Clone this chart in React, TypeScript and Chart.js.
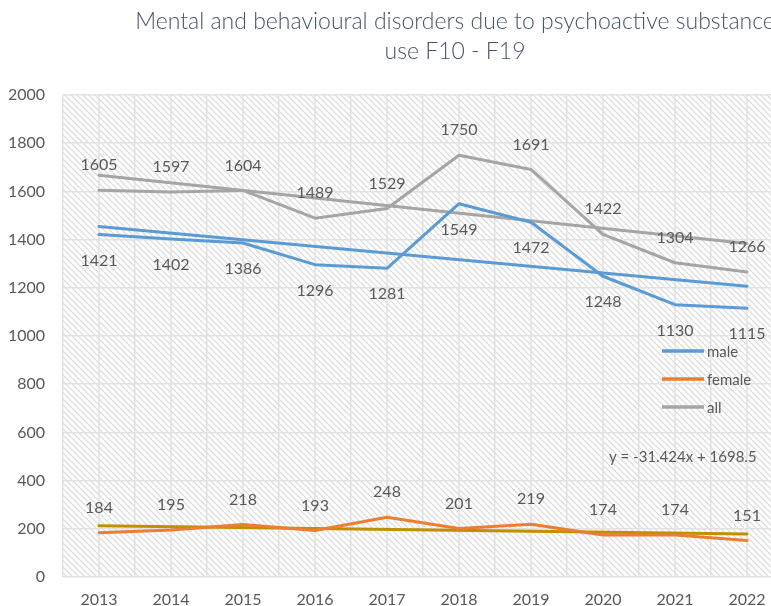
import React, { useEffect, useRef } from "react";
import { Chart, registerables } from "chart.js";

Chart.register(...registerables);

const years = ["2013", "2014", "2015", "2016", "2017", "2018", "2019", "2020", "2021", "2022"];
const male = [1421, 1402, 1386, 1296, 1281, 1549, 1472, 1248, 1130, 1115];
const female = [184, 195, 218, 193, 248, 201, 219, 174, 174, 151];
const all = [1605, 1597, 1604, 1489, 1529, 1750, 1691, 1422, 1304, 1266];
// linear trendline end values (2013 and 2022)
const maleTrend = [1454, null, null, null, null, null, null, null, null, 1206];
const femaleTrend = [213, null, null, null, null, null, null, null, null, 178];
const allTrend = [1667, null, null, null, null, null, null, null, null, 1384];
const titleLines = ["Mental and behavioural disorders due to psychoactive substance", "use F10 - F19"];
const equation = "y = -31.424x + 1698.5";
const legendItems = [
  { label: "male", color: "#5B9BD5" },
  { label: "female", color: "#ED7D31" },
  { label: "all", color: "#A5A5A5" },
];

const FONT = "Lato, 'Open Sans', sans-serif";
const TEXT = "#595959";

export default function App() {
  const ref = useRef<HTMLCanvasElement | null>(null);

  useEffect(() => {
    const canvas = ref.current!;
    const pc = document.createElement("canvas");
    pc.width = 6;
    pc.height = 6;
    const pctx = pc.getContext("2d")!;
    pctx.fillStyle = "#ffffff";
    pctx.fillRect(0, 0, 6, 6);
    pctx.strokeStyle = "#d9d9d9";
    pctx.lineWidth = 1.2;
    pctx.beginPath();
    pctx.moveTo(-1, -1);
    pctx.lineTo(7, 7);
    pctx.moveTo(-1, 5);
    pctx.lineTo(1, 7);
    pctx.moveTo(5, -1);
    pctx.lineTo(7, 1);
    pctx.stroke();

    const bgPlugin = {
      id: "bgpat",
      beforeDraw(chart: any) {
        const { ctx, chartArea: a } = chart;
        ctx.save();
        ctx.fillStyle = "#ffffff";
        ctx.fillRect(0, 0, chart.width, chart.height);
        const pat = ctx.createPattern(pc, "repeat");
        ctx.fillStyle = pat;
        ctx.fillRect(a.left, a.top, a.right - a.left, a.bottom - a.top);
        ctx.restore();
      },
      beforeDatasetsDraw(chart: any) {
        const { ctx, chartArea: a, scales } = chart;
        ctx.save();
        ctx.strokeStyle = "#e2e2e2";
        ctx.lineWidth = 1.5;
        years.forEach((_, i) => {
          const x = scales.x.getPixelForValue(i);
          ctx.beginPath();
          ctx.moveTo(x, a.top);
          ctx.lineTo(x, a.bottom);
          ctx.stroke();
        });
        ctx.restore();
      },
    };

    const textPlugin = {
      id: "texts",
      afterDatasetsDraw(chart: any) {
        const { ctx, scales } = chart;
        ctx.save();
        ctx.fillStyle = TEXT;
        ctx.font = `16px ${FONT}`;
        ctx.textAlign = "center";
        ctx.textBaseline = "middle";
        const series: [number[], number][] = [
          [all, -25],
          [male, 26],
          [female, -25],
        ];
        series.forEach(([arr, off]) => {
          arr.forEach((v, i) => {
            const x = scales.x.getPixelForValue(i);
            const y = scales.y.getPixelForValue(v);
            ctx.fillText(String(v), x, y + off);
          });
        });
        // title
        ctx.fillStyle = "#44546A";
        ctx.font = `300 23px ${FONT}`;
        ctx.fillText(titleLines[0], 455, 22);
        ctx.fillText(titleLines[1], 455, 52);
        // legend
        ctx.textAlign = "left";
        ctx.font = `15px ${FONT}`;
        legendItems.forEach((it, k) => {
          const y = 351 + k * 28;
          ctx.strokeStyle = it.color;
          ctx.lineWidth = 3.5;
          ctx.beginPath();
          ctx.moveTo(662, y);
          ctx.lineTo(704, y);
          ctx.stroke();
          ctx.fillStyle = TEXT;
          ctx.fillText(it.label, 707, y + 1);
        });
        ctx.fillText(equation, 609, 457);
        ctx.restore();
      },
    };

    const lineDs = (label: string, data: any[], color: string, trend: boolean) => ({
      label,
      data,
      borderColor: color,
      backgroundColor: color,
      borderWidth: 3,
      pointRadius: 0,
      pointHoverRadius: 0,
      tension: 0,
      spanGaps: trend,
      fill: false,
      borderCapStyle: "round" as const,
      borderJoinStyle: "round" as const,
    });

    const chart = new Chart(canvas, {
      type: "line",
      data: {
        labels: years,
        datasets: [
          lineDs("male", male, "#5B9BD5", false),
          lineDs("female", female, "#ED7D31", false),
          lineDs("all", all, "#A5A5A5", false),
          lineDs("male trend", maleTrend, "#5B9BD5", true),
          lineDs("female trend", femaleTrend, "#BF9000", true),
          lineDs("all trend", allTrend, "#A5A5A5", true),
        ],
      },
      plugins: [bgPlugin, textPlugin],
      options: {
        responsive: false,
        animation: false,
        devicePixelRatio: 1,
        layout: { padding: { top: 95, right: 127, left: 0, bottom: 0 } },
        plugins: {
          legend: { display: false },
          title: { display: false },
          tooltip: { enabled: false },
        },
        scales: {
          x: {
            offset: true,
            grid: { offset: true, color: "#e2e2e2", lineWidth: 1.5, drawTicks: false },
            border: { display: false },
            ticks: { color: TEXT, font: { family: FONT, size: 16 }, padding: 13, maxRotation: 0 },
            afterFit(scale: any) {
              scale.height = 29;
            },
          },
          y: {
            min: 0,
            max: 2000,
            ticks: {
              stepSize: 200,
              color: TEXT,
              font: { family: FONT, size: 16 },
              padding: 18,
              callback: (v: any) => String(v),
            },
            grid: { color: "#e2e2e2", lineWidth: 1.5, drawTicks: false },
            border: { display: false },
            afterFit(scale: any) {
              scale.width = 63;
            },
          },
        },
      },
    });
    return () => chart.destroy();
  }, []);

  return (
    <div style={{ position: "fixed", left: 0, top: 0, width: 771, height: 606, overflow: "hidden", background: "#fff" }}>
      <canvas ref={ref} width={910} height={606} style={{ width: 910, height: 606, display: "block" }} />
    </div>
  );
}
